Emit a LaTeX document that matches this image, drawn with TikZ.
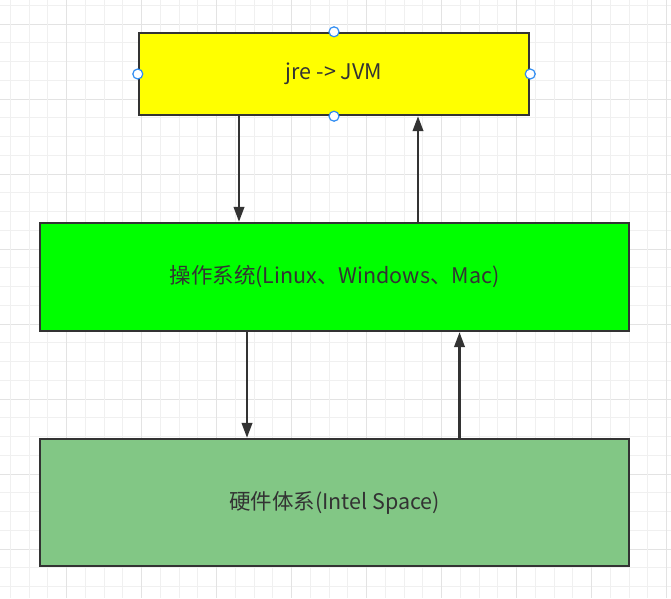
\documentclass[tikz,border=0pt]{standalone}
\usepackage{fontspec}
\setmainfont{Noto Sans CJK SC}
\usetikzlibrary{arrows.meta}
\definecolor{minorgrid}{HTML}{F0F0F0}
\definecolor{majorgrid}{HTML}{E3E3E3}
\definecolor{edge}{HTML}{333333}
\definecolor{jvmfill}{HTML}{FFFF00}
\definecolor{osfill}{HTML}{00FF00}
\definecolor{hwfill}{HTML}{82C785}
\definecolor{handleblue}{HTML}{2F8CF2}
\tikzset{
  box/.style={draw=edge, line width=2.4pt, text=edge, inner sep=0pt,
    font=\fontsize{21.5}{25}\selectfont},
  arr/.style={draw=edge, line width=2.4pt,
    -{Triangle[length=15pt,width=10.5pt]}},
  handle/.style={circle, draw=handleblue, fill=white, line width=1.2pt,
    minimum size=10pt, inner sep=0pt},
}
\begin{document}
\begin{tikzpicture}[x=1pt,y=-1pt]
\useasboundingbox (0,0) rectangle (671,598);
\fill[white] (0,0) rectangle (671,598);
% grid
\foreach \k in {0,...,31}{
  \pgfmathsetmacro{\yy}{5.25+18.75*\k}
  \pgfmathtruncatemacro{\m}{mod(\k,4)}
  \ifnum\m=1
    \draw[majorgrid, line width=1pt] (0,\yy) -- (671,\yy);
  \else
    \draw[minorgrid, line width=1pt] (0,\yy) -- (671,\yy);
  \fi
}
\foreach \k in {0,...,35}{
  \pgfmathsetmacro{\xx}{10.4+18.75*\k}
  \pgfmathtruncatemacro{\m}{mod(\k,4)}
  \ifnum\m=3
    \draw[majorgrid, line width=1pt] (\xx,0) -- (\xx,598);
  \else
    \draw[minorgrid, line width=1pt] (\xx,0) -- (\xx,598);
  \fi
}
% boxes
\node[box, fill=jvmfill, minimum width=390pt, minimum height=82pt] (jvm) at (334,74) {jre -> JVM};
\node[box, fill=osfill, minimum width=589pt, minimum height=108pt] (os) at (334.5,277) {操作系统(Linux、Windows、Mac)};
\node[box, fill=hwfill, minimum width=589pt, minimum height=127pt] (hw) at (334.5,502.5) {硬件体系(Intel Space)};
% connector columns
\coordinate (c1) at (239,0);
\coordinate (c2) at (418,0);
\coordinate (c3) at (247,0);
\coordinate (c4) at (459.5,0);
\draw[arr] (jvm.south -| c1) -- (os.north -| c1);
\draw[arr] (os.north -| c2) -- (jvm.south -| c2);
\draw[arr] (os.south -| c3) -- (hw.north -| c3);
\draw[arr] (hw.north -| c4) -- (os.south -| c4);
% selection handles
\node[handle] (hn) at (jvm.north) {};
\node[handle] (hs) at (jvm.south) {};
\node[handle] (hw1) at (jvm.west) {};
\node[handle] (he) at (jvm.east) {};
\end{tikzpicture}
\end{document}
